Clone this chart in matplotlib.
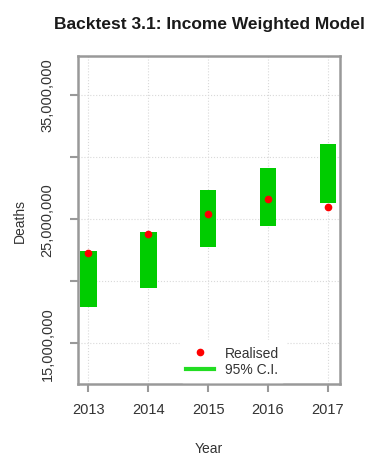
import matplotlib
matplotlib.use("Agg")
import matplotlib.pyplot as plt
from matplotlib.lines import Line2D

plt.rcParams['font.family'] = ['Liberation Sans', 'DejaVu Sans']

years = [2013, 2014, 2015, 2016, 2017]
ci_lower = [17.9e6, 19.45e6, 22.75e6, 24.45e6, 26.3e6]
ci_upper = [22.4e6, 23.95e6, 27.35e6, 29.1e6, 31.05e6]
realised = [22.25e6, 23.8e6, 25.4e6, 26.6e6, 25.95e6]
y_ticks = [15e6, 20e6, 25e6, 30e6, 35e6]
y_tick_labels = ["15,000,000", "", "25,000,000", "", "35,000,000"]

fig = plt.figure(figsize=(3.65, 4.56), dpi=100)
ax = fig.add_axes([78/365, 1-385/456, (340-78)/365, (385-57)/456])

ax.grid(True, color='#d9d9d9', linestyle=':', linewidth=0.8, zorder=0)
ax.set_axisbelow(True)

heights = [u - l for u, l in zip(ci_upper, ci_lower)]
ax.bar(years, heights, bottom=ci_lower, width=0.28, color='#00cc00', zorder=2)
ax.plot(years, realised, 'o', color='#ff0000', markersize=4.5, zorder=3)

ax.set_xlim(2012.83, 2017.2)
ax.set_ylim(11.7e6, 38.1e6)
ax.set_xticks(years)
ax.set_xticklabels([str(y) for y in years], fontsize=10.5)
ax.set_yticks(y_ticks)
ax.set_yticklabels(y_tick_labels, fontsize=10.5, rotation=90, va='center')

for s in ax.spines.values():
    s.set_color('#999999')
    s.set_linewidth(1.8)
ax.tick_params(axis='both', colors='#999999', length=6, width=1.5, labelcolor='#333333')
ax.tick_params(axis='x', pad=7)
ax.tick_params(axis='y', pad=11)

ax.set_title("Backtest 3.1: Income Weighted Model", fontsize=12.5, fontweight='bold', pad=20, color='#1a1a1a')
ax.set_xlabel("Year", fontsize=10, labelpad=18, color='#333333')
ax.set_ylabel("Deaths", fontsize=10, labelpad=10, color='#333333')

handles = [Line2D([], [], marker='o', linestyle='none', color='#ff0000', markersize=4.5),
           Line2D([], [], color='#22dd22', linewidth=3)]
leg = ax.legend(handles, ["Realised", "95% C.I."], loc='lower right',
                bbox_to_anchor=(0.815, -0.015), frameon=True, fontsize=10,
                handlelength=2.0, handletextpad=0.8, labelspacing=0.2,
                borderpad=0.4, facecolor='white', edgecolor='white', framealpha=1)
for t in leg.get_texts():
    t.set_color('#333333')

fig.savefig("out.png", dpi=100)
